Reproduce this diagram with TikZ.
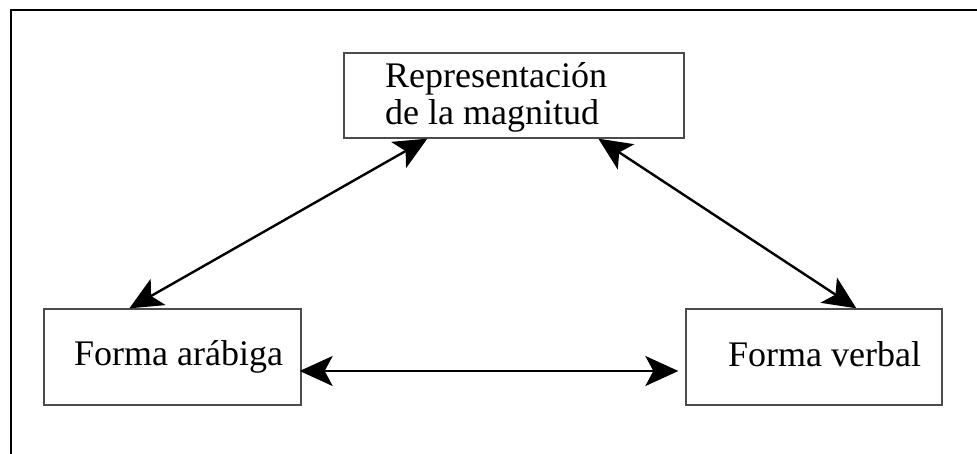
\documentclass[tikz,border=0pt]{standalone}
\usepackage{fontspec}
\setmainfont{Liberation Serif}
\usetikzlibrary{arrows.meta}
\begin{document}
\begin{tikzpicture}[x=1pt,y=-1pt,
  box/.style={draw=black!70,line width=1.3pt,rectangle,inner sep=0pt},
  lbl/.style={inner sep=0pt,anchor=base west,font=\fontsize{36}{37}\selectfont,align=left},
  tip/.style={Stealth[length=33pt,width=30pt,inset=8pt]},
  link/.style={line width=2.4pt,{Stealth[length=33pt,width=30pt,inset=8pt]}-{Stealth[length=33pt,width=30pt,inset=8pt]}}]
  \useasboundingbox (0,0) rectangle (977,454);
  % outer frame: top and left edges only
  \draw[line width=2.2pt] (11,454) -- (11,10) -- (977,10);
  % boxes
  \node[box,minimum width=340pt,minimum height=85pt] (mag) at (514,95.5) {};
  \node[box,minimum width=257pt,minimum height=96pt] (arab) at (172.5,357) {};
  \node[box,minimum width=256pt,minimum height=96pt] (verb) at (814,357) {};
  % labels
  \node[lbl] (magtxt) at (385,125) {Representación\\de la magnitud};
  \node[lbl] (arabtxt) at (74,365) {Forma arábiga};
  \node[lbl] (verbtxt) at (728,366) {Forma verbal};
  % connection points on the box edges
  \coordinate (m1) at ([xshift=84pt]mag.south west);
  \coordinate (m2) at ([xshift=255pt]mag.south west);
  \coordinate (a1) at ([xshift=86pt]arab.north west);
  \coordinate (v1) at ([xshift=171pt]verb.north west);
  \coordinate (a2) at ([xshift=-2pt,yshift=-14pt]arab.east);
  \coordinate (v2) at ([xshift=-7pt,yshift=-14pt]verb.west);
  % connectors
  \draw[link] (a1) -- (m1);
  \draw[link] (m2) -- (v1);
  \draw[link] (a2) -- (v2);
\end{tikzpicture}
\end{document}
